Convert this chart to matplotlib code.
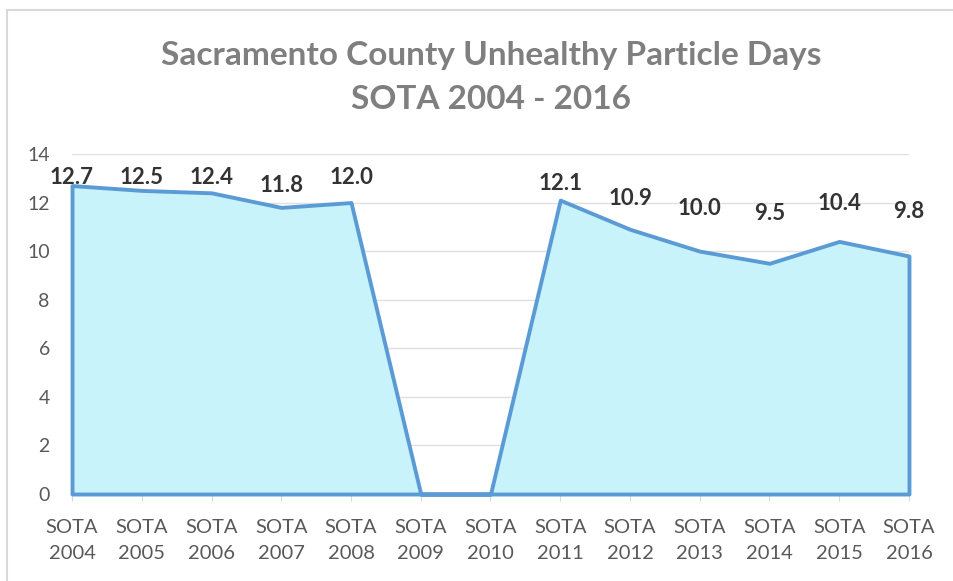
import matplotlib
matplotlib.use('Agg')
import matplotlib.pyplot as plt
from matplotlib.lines import Line2D

plt.rcParams['font.family'] = ['Lato', 'DejaVu Sans']

years = ['2004', '2005', '2006', '2007', '2008', '2009', '2010',
         '2011', '2012', '2013', '2014', '2015', '2016']
days = [12.7, 12.5, 12.4, 11.8, 12.0, 0, 0, 12.1, 10.9, 10.0, 9.5, 10.4, 9.8]
labels = ['SOTA\n' + y for y in years]

# how far each data label sits above its point (points), as in the original
label_lift = [6, 9.5, 11, 16, 18, 0, 0, 12, 22, 31, 36, 27, 32]

fig = plt.figure(figsize=(9.54, 5.81), dpi=100)
ax = fig.add_axes([0.0755, 0.1497, 0.8773, 0.5853])

x = list(range(len(days)))
# area with outline all round, like the Excel area chart
ax.fill_between(x, days, 0, facecolor='#c9f3fb', edgecolor='#5b9bd5',
                lw=2.8, zorder=3, clip_on=False)

for i, v in enumerate(days):
    if v == 0:
        continue
    ax.annotate('%.1f' % v, (i, v), xytext=(0, label_lift[i]),
                textcoords='offset points', ha='center', va='center',
                fontsize=16, fontweight='bold', color='#333333', zorder=4)

ax.set_xlim(0, len(days) - 1)
ax.set_ylim(0, 14)
ax.set_yticks(range(0, 15, 2))
ax.set_xticks(x)
ax.set_xticklabels(labels, fontsize=14.5, color='#595959', linespacing=1.65)
ax.tick_params(axis='y', labelsize=14, labelcolor='#595959', length=0, pad=16)
ax.tick_params(axis='x', length=5, color='#d9d9d9', pad=13)
ax.grid(axis='y', color='#e0e0e0', lw=1, zorder=1)
for s in ['top', 'right', 'left']:
    ax.spines[s].set_visible(False)
ax.spines['bottom'].set_color('#d9d9d9')

fig.text(0.515, 0.905, 'Sacramento County Unhealthy Particle Days',
         ha='center', va='center', fontsize=24, fontweight='bold', color='#7f7f7f')
fig.text(0.515, 0.828, 'SOTA 2004 - 2016',
         ha='center', va='center', fontsize=24, fontweight='bold', color='#7f7f7f')

# chart frame (left and top edges)
fig.add_artist(Line2D([7 / 954, 7 / 954], [0, 1 - 10 / 581], color='#d9d9d9', lw=1.5))
fig.add_artist(Line2D([7 / 954, 1], [1 - 10 / 581, 1 - 10 / 581], color='#d9d9d9', lw=1.5))

fig.savefig('out.png', dpi=100)
